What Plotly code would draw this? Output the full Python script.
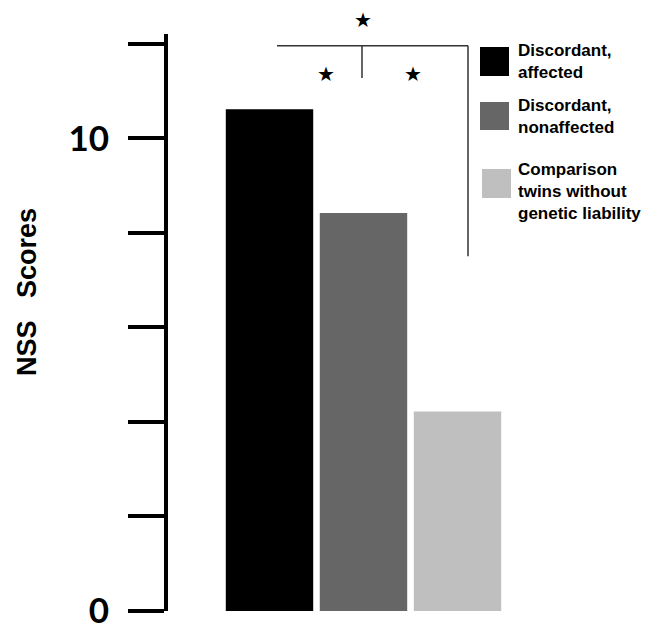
import plotly.graph_objects as go

# Data
groups = ["Discordant, affected", "Discordant, nonaffected", "Comparison twins without genetic liability"]
legend_texts = ["Discordant,<br>affected", "Discordant,<br>nonaffected", "Comparison<br>twins without<br>genetic liability"]
nss_scores = [10.62, 8.42, 4.22]
bar_colors = ["#000000", "#666666", "#bfbfbf"]
tick_values = [0, 2, 4, 6, 8, 10, 12]
tick_labels = ["0", "", "", "", "", "10", ""]
y_title = "NSS\u00a0\u00a0\u00a0Scores"

x_pos = list(range(len(groups)))

OFF = 8  # page body margin
W, H = 656 - OFF, 623 - OFF
ml, mr, mt, mb = 168 - OFF, 0, 34 - OFF, 12
pw, ph = W - ml - mr, H - mt - mb

px_per_x = 94.0
px_per_y = 47.24
x0_px = 269.5
y0_px = 610.7
def dx(px):
    return (px - x0_px) / px_per_x
def dy(py):
    return (y0_px - py) / px_per_y
def paper_x(px):
    return (px - OFF - ml) / pw
def paper_y(py):
    return (H - mb - (py - OFF)) / ph

fig = go.Figure()
fig.add_trace(go.Bar(
    x=x_pos, y=nss_scores, width=0.93,
    marker=dict(color=bar_colors, line=dict(width=0)),
    showlegend=False, hoverinfo="skip",
))

line_style = dict(color="#333333", width=1.5)
# significance brackets
fig.add_shape(type="line", x0=dx(277), x1=dx(468), y0=dy(45.7), y1=dy(45.7), line=line_style)
fig.add_shape(type="line", x0=dx(362), x1=dx(362), y0=dy(45.7), y1=dy(78), line=line_style)
fig.add_shape(type="line", x0=dx(468), x1=dx(468), y0=dy(45.7), y1=dy(256), line=line_style)

star_font = dict(family="DejaVu Sans", size=20, color="#000000")
for sx, sy in [(363, 20), (326, 74), (413, 74)]:
    fig.add_annotation(x=paper_x(sx), y=paper_y(sy), xref="paper", yref="paper",
                       text="★", showarrow=False, font=star_font,
                       xanchor="center", yanchor="middle")

# legend (drawn manually to match large swatches)
swatches = [(480, 509, 47, 76), (480, 509, 102, 130), (482, 511, 169, 198)]
text_centers = [61, 116, 191]
legend_font = dict(family="Liberation Sans", size=17, color="#000000")
for i, (l, r, t, b) in enumerate(swatches):
    fig.add_shape(type="rect", xref="paper", yref="paper",
                  x0=paper_x(l), x1=paper_x(r), y0=paper_y(b), y1=paper_y(t),
                  fillcolor=bar_colors[i], line=dict(width=0))
    fig.add_annotation(x=paper_x(516), y=paper_y(text_centers[i]), xref="paper", yref="paper",
                       text="<b>" + legend_texts[i] + "</b>", showarrow=False,
                       font=legend_font, xanchor="left", yanchor="middle", align="left")

# y-axis title
fig.add_annotation(x=paper_x(27), y=paper_y(292), xref="paper", yref="paper",
                   text="<b>" + y_title + "</b>", showarrow=False, textangle=-90,
                   font=dict(family="Liberation Sans", size=27, color="#000000"),
                   xanchor="center", yanchor="middle")

fig.update_layout(
    width=W, height=H,
    margin=dict(l=ml, r=mr, t=mt, b=mb, autoexpand=False),
    plot_bgcolor="#ffffff", paper_bgcolor="#ffffff",
    xaxis=dict(range=[dx(ml + OFF), dx(ml + OFF + pw)], showticklabels=False, showline=False,
               showgrid=False, zeroline=False, ticks="", automargin=False),
    yaxis=dict(range=[0, 12.21], tickvals=tick_values, ticktext=tick_labels,
               ticks="outside", ticklen=36, tickwidth=4, tickcolor="#000000",
               showline=True, linewidth=4, linecolor="#000000",
               showgrid=False, zeroline=False, ticklabelstandoff=12,
               ticklabeloverflow="allow", automargin=False,
               tickfont=dict(family="Lato", size=35, color="#000000", weight="bold")),
    showlegend=False,
)

fig.write_html("out.html")
